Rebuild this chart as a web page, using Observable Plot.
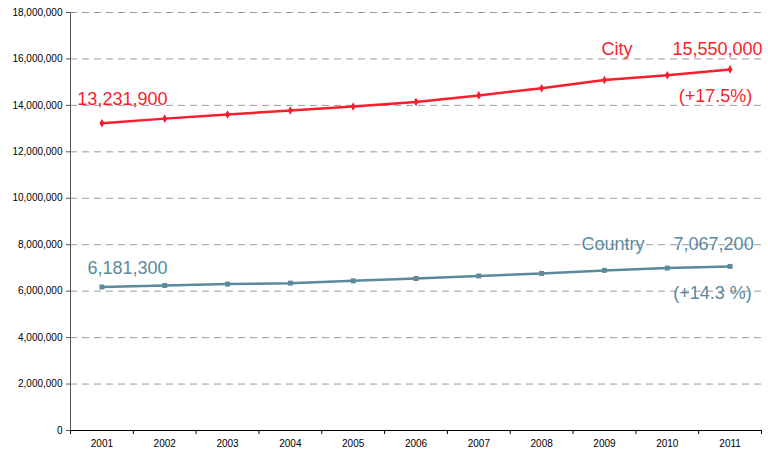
<!DOCTYPE html>
<html><head><meta charset="utf-8">
<script src="https://cdn.jsdelivr.net/npm/d3@7"></script>
<script src="https://cdn.jsdelivr.net/npm/@observablehq/plot@0.6"></script>
<style>body{margin:0;background:#fff} svg{display:block}</style>
</head><body><div id="chart"></div>
<script>
const years = [2001, 2002, 2003, 2004, 2005, 2006, 2007, 2008, 2009, 2010, 2011];
const city = [13231900, 13430000, 13610000, 13780000, 13950000, 14150000, 14430000, 14740000, 15090000, 15300000, 15550000];
const country = [6181300, 6245000, 6305000, 6345000, 6445000, 6545000, 6655000, 6765000, 6895000, 6995000, 7067200];
const yTicks = [0, 2000000, 4000000, 6000000, 8000000, 10000000, 12000000, 14000000, 16000000, 18000000];
const cityName = "City";
const countryName = "Country";
const cityStart = "13,231,900";
const cityEnd = "15,550,000";
const cityChange = "(+17.5%)";
const countryStart = "6,181,300";
const countryEnd = "7,067,200";
const countryChange = "(+14.3 %)";

const RED = "#fa1e2d";
const BLUE = "#5a8a9c";
const FONT = "Liberation Sans, Arial, sans-serif";

const cityRows = years.map((y, i) => ({year: y, value: city[i]}));
const countryRows = years.map((y, i) => ({year: y, value: country[i]}));
const boundaries = [years[0] - 0.5, ...years.map(y => y + 0.5)];
const cFirst = cityRows[0], cLast = cityRows[cityRows.length - 1];
const kFirst = countryRows[0], kLast = countryRows[countryRows.length - 1];

const note = (row, text, color, dx, dy) =>
  Plot.text([row], {x: "year", y: "value", text: () => text, fill: color, dx, dy,
    fontSize: 18, fontFamily: FONT, textAnchor: "middle"});

const chart = Plot.plot({
  width: 768,
  height: 454,
  marginLeft: 70,
  marginRight: 7,
  marginTop: 12,
  marginBottom: 24,
  style: {fontFamily: FONT, fontSize: "10px", color: "#000", background: "#fff"},
  x: {domain: [boundaries[0], boundaries[boundaries.length - 1]]},
  y: {domain: [0, 18000000]},
  marks: [
    Plot.ruleY(yTicks.filter(d => d > 0), {stroke: "#9a9a9a", strokeDasharray: "7,5", strokeWidth: 1}),
    Plot.ruleX([boundaries[0]], {y1: 0, y2: 18000000, stroke: "#555"}),
    Plot.ruleY([0], {stroke: "#000"}),
    Plot.axisY({ticks: yTicks, tickFormat: d3.format(","), tickSize: 4, tickPadding: 4, label: null, stroke: "#555"}),
    Plot.axisX({ticks: years, tickSize: 0, tickPadding: 9, tickFormat: d => String(d), label: null}),
    Plot.axisX({ticks: boundaries, tickSize: 4, tickFormat: () => "", label: null}),
    Plot.lineY(cityRows, {x: "year", y: "value", stroke: RED, strokeWidth: 2.5}),
    Plot.dot(cityRows, {x: "year", y: "value", fill: RED, symbol: "diamond", r: 2.6}),
    Plot.lineY(countryRows, {x: "year", y: "value", stroke: BLUE, strokeWidth: 2.5}),
    Plot.dot(countryRows, {x: "year", y: "value", fill: BLUE, symbol: "square", r: 2.8}),
    note(cFirst, cityStart, RED, 20.5, -24),
    note(cLast, cityName, RED, -113, -20),
    note(cLast, cityEnd, RED, -12.5, -20),
    note(cLast, cityChange, RED, -14.5, 27),
    note(kFirst, countryStart, BLUE, 25.5, -19),
    note(kLast, countryName, BLUE, -117, -22),
    note(kLast, countryEnd, BLUE, -16.5, -22),
    note(kLast, countryChange, BLUE, -17.5, 27)
  ]
});
document.getElementById("chart").appendChild(chart);
</script>
</body></html>
